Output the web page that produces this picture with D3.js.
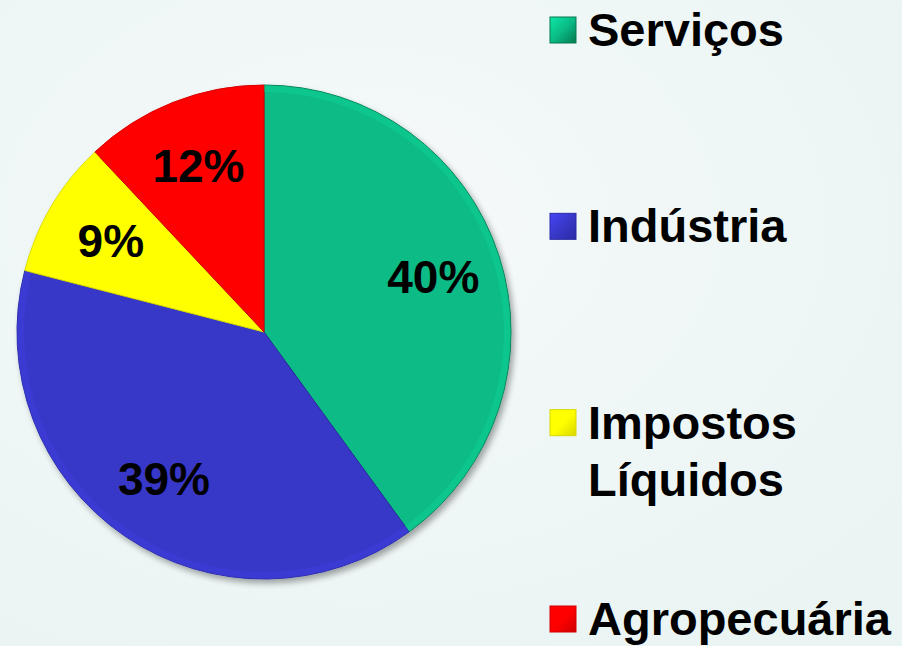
<!DOCTYPE html>
<html>
<head>
<meta charset="utf-8">
<script src="https://cdn.jsdelivr.net/npm/d3@7"></script>
<style>
  html, body { margin: 0; padding: 0; }
  body { width: 902px; height: 646px; overflow: hidden; }
  text { font-family: "Liberation Sans", Arial, sans-serif; font-weight: bold; fill: #000; }
</style>
</head>
<body>
<div id="chart"></div>
<script>
// data
var categories = ["Serviços", "Indústria", "Impostos Líquidos", "Agropecuária"];
var values = [40, 39, 9, 12];
var pctLabels = ["40%", "39%", "9%", "12%"];
var legendLines = [["Serviços"], ["Indústria"], ["Impostos", "Líquidos"], ["Agropecuária"]];
var colors = ["#0abb86", "#3838c8", "#ffff00", "#ff0000"];
var darkColors = ["#06794f", "#2a2aa6", "#d8d800", "#d00000"];

var width = 902, height = 646;
var cx = 264, cy = 332, R = 247;

var svg = d3.select("#chart").append("svg")
  .attr("width", width).attr("height", height);

var defs = svg.append("defs");

// background
var bg = defs.append("radialGradient").attr("id", "bg")
  .attr("cx", "40%").attr("cy", "35%").attr("r", "80%");
bg.append("stop").attr("offset", "0%").attr("stop-color", "#f6f9fa");
bg.append("stop").attr("offset", "100%").attr("stop-color", "#e9f4f3");
svg.append("rect").attr("width", width).attr("height", height).attr("fill", "url(#bg)");

// slice gradients
categories.forEach(function(c, i) {
  var g = defs.append("linearGradient").attr("id", "grad" + i)
    .attr("gradientUnits", "userSpaceOnUse")
    .attr("x1", 0).attr("y1", cy - R).attr("x2", 0).attr("y2", cy + R);
  g.append("stop").attr("offset", "0%").attr("stop-color", colors[i]);
  g.append("stop").attr("offset", "55%").attr("stop-color", colors[i]);
  g.append("stop").attr("offset", "100%").attr("stop-color", darkColors[i]);
  var lg = defs.append("linearGradient").attr("id", "lgrad" + i)
    .attr("x1", 0).attr("y1", 0).attr("x2", 1).attr("y2", 1);
  lg.append("stop").attr("offset", "0%").attr("stop-color", d3.color(colors[i]).brighter(0.6));
  lg.append("stop").attr("offset", "50%").attr("stop-color", colors[i]);
  lg.append("stop").attr("offset", "100%").attr("stop-color", darkColors[i]);
});

var shadow = defs.append("filter").attr("id", "shadow")
  .attr("x", "-10%").attr("y", "-10%").attr("width", "130%").attr("height", "130%");
shadow.append("feGaussianBlur").attr("in", "SourceAlpha").attr("stdDeviation", 3);
shadow.append("feOffset").attr("dx", 3).attr("dy", 4).attr("result", "b");
shadow.append("feComponentTransfer").append("feFuncA").attr("type", "linear").attr("slope", 0.35);
var fm = shadow.append("feMerge");
fm.append("feMergeNode");
fm.append("feMergeNode").attr("in", "SourceGraphic");

var pie = d3.pie().sort(null).value(function(d) { return d; });
var arcs = pie(values);
var arc = d3.arc().innerRadius(0).outerRadius(R);
var rimArc = d3.arc().innerRadius(R - 7).outerRadius(R);
var labelArc = d3.arc().innerRadius(178).outerRadius(178);

var g = svg.append("g").attr("transform", "translate(" + cx + "," + cy + ")");

g.append("g").attr("filter", "url(#shadow)")
  .selectAll("path.slice").data(arcs).enter().append("path")
  .attr("class", "slice")
  .attr("d", arc)
  .attr("fill", function(d, i) { return "url(#grad" + i + ")"; })
  .attr("stroke", function(d, i) { return darkColors[i]; })
  .attr("stroke-width", 1);

// bevel highlight along rim
g.selectAll("path.rim").data(arcs).enter().append("path")
  .attr("class", "rim")
  .attr("d", rimArc)
  .attr("fill", function(d, i) { return d3.color(colors[i]).brighter(0.5); })
  .attr("opacity", 0.3);

g.selectAll("text.pct").data(arcs).enter().append("text")
  .attr("class", "pct")
  .attr("transform", function(d) { return "translate(" + labelArc.centroid(d) + ")"; })
  .attr("text-anchor", "middle")
  .attr("dy", "0.34em")
  .style("font-size", "46px")
  .text(function(d, i) { return pctLabels[i]; });

// legend
var ly = d3.scalePoint().domain(categories).range([46, 635]);
var legend = svg.append("g").selectAll("g").data(categories).enter().append("g")
  .attr("transform", function(d) { return "translate(0," + ly(d) + ")"; });

legend.append("rect")
  .attr("x", 550).attr("y", -29).attr("width", 26).attr("height", 26)
  .attr("fill", function(d, i) { return "url(#lgrad" + i + ")"; })
  .attr("stroke", function(d, i) { return darkColors[i]; })
  .attr("stroke-width", 1);

legend.append("text")
  .attr("x", 588)
  .style("font-size", "47px")
  .each(function(d, i) {
    var t = d3.select(this);
    legendLines[i].forEach(function(line, k) {
      t.append("tspan").attr("x", 588).attr("y", k * 57).text(line);
    });
  });
</script>
</body>
</html>
